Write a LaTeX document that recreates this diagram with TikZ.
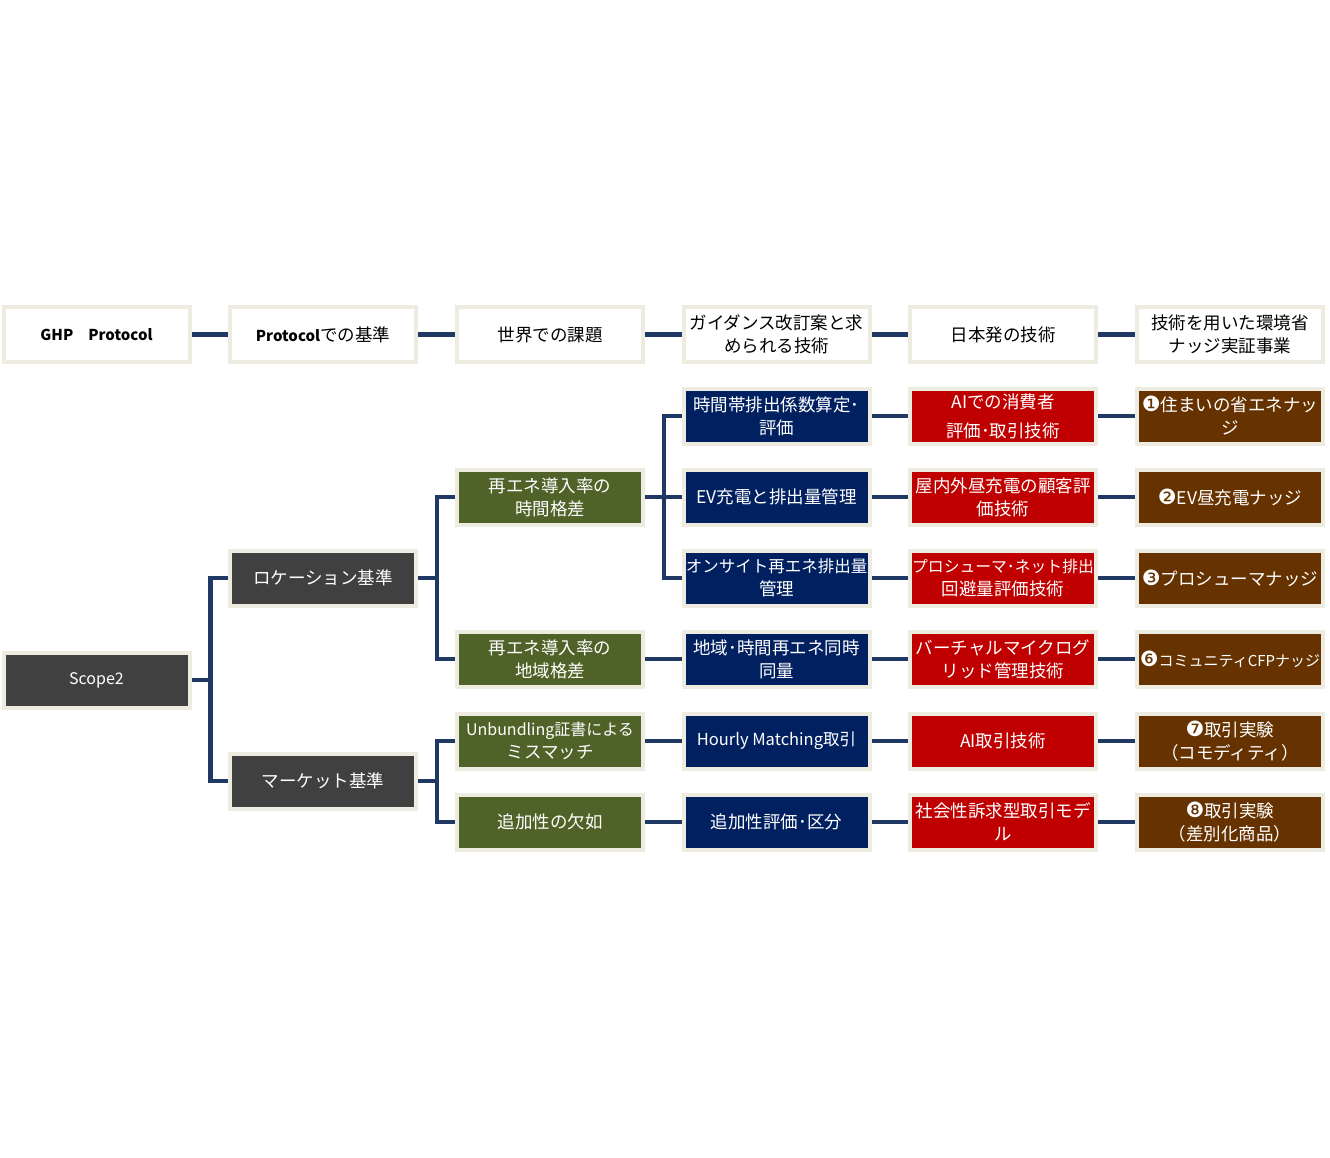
\documentclass[tikz,border=0pt]{standalone}
\usepackage{fontspec}
\setmainfont{Noto Sans CJK JP}
\newfontfamily\circfont{DejaVu Sans}
\usetikzlibrary{calc}
\definecolor{bd}{HTML}{EEECE1}
\definecolor{cgray}{HTML}{404040}
\definecolor{cgreen}{HTML}{4F6228}
\definecolor{cnavy}{HTML}{002060}
\definecolor{cred}{HTML}{C00000}
\definecolor{cbrown}{HTML}{663300}
\definecolor{cline}{HTML}{1F3864}
\newcommand{\fs}[1]{\fontsize{#1}{23}\selectfont}
\newcommand{\cn}[1]{{\circfont\fontsize{21}{23}\selectfont #1}}
\tikzset{
  box/.style={draw=bd, line width=4pt, minimum width=186pt, minimum height=55pt,
    inner xsep=0pt, inner ysep=0pt, align=center, text=white, font=\fs{17.5}},
  hdr/.style={box, fill=white, text=black},
  gbox/.style={box, fill=cgray},
  grbox/.style={box, fill=cgreen},
  nbox/.style={box, fill=cnavy},
  rbox/.style={box, fill=cred},
  bbox/.style={box, fill=cbrown},
  conn/.style={draw=cline, line width=4.5pt, line join=miter}
}
\begin{document}
\begin{tikzpicture}[x=1pt,y=-1pt]
\fill[white] (0,0) rectangle (1330,1158);
\useasboundingbox (0,0) rectangle (1330,1158);

% header row
\node[hdr] (h1) at (96.5,334.5) {\fs{15}\bfseries GHP\hspace{1em}Protocol};
\node[hdr] (h2) at (323,334.5) {{\fs{15}\bfseries Protocol}での基準};
\node[hdr] (h3) at (550,334.5) {世界での課題};
\node[hdr] (h4) at (776.5,334.5) {ガイダンス改訂案と求\\められる技術};
\node[hdr] (h5) at (1003,334.5) {日本発の技術};
\node[hdr] (h6) at (1230,334.5) {技術を用いた環境省\\ナッジ実証事業};

% level 1-3
\node[gbox] (scope) at (96.5,680) {\fs{16}Scope2};
\node[gbox] (loc) at (323,578) {ロケーション基準};
\node[gbox] (mkt) at (323,781) {マーケット基準};
\node[grbox] (g1) at (550,497) {再エネ導入率の\\時間格差};
\node[grbox] (g2) at (550,659) {再エネ導入率の\\地域格差};
\node[grbox] (g3) at (550,741) {\fs{16}Unbundling証書による\\ミスマッチ};
\node[grbox] (g4) at (550,822) {追加性の欠如};

% level 4
\node[nbox] (n1) at (776.5,416) {時間帯排出係数算定･\\評価};
\node[nbox] (n2) at (776.5,497) {EV充電と排出量管理};
\node[nbox] (n3) at (776.5,578) {\fs{16.5}オンサイト再エネ排出量\\管理};
\node[nbox] (n4) at (776.5,659) {地域･時間再エネ同時\\同量};
\node[nbox] (n5) at (776.5,741) {\fs{16.5}Hourly Matching取引};
\node[nbox] (n6) at (776.5,822) {追加性評価･区分};

% level 5
\node[rbox] (r1) at (1003,416) {AIでの消費者\\[6pt]評価･取引技術};
\node[rbox] (r2) at (1003,497) {屋内外昼充電の顧客評\\価技術};
\node[rbox] (r3) at (1003,578) {\fs{15.8}プロシューマ･ネット排出\\回避量評価技術};
\node[rbox] (r4) at (1003,659) {バーチャルマイクログ\\リッド管理技術};
\node[rbox] (r5) at (1003,741) {AI取引技術};
\node[rbox] (r6) at (1003,822) {社会性訴求型取引モデ\\ル};

% level 6
\node[bbox] (b1) at (1230,416) {\cn{❶}住まいの省エネナッ\\ジ};
\node[bbox] (b2) at (1230,497) {\cn{❷}EV昼充電ナッジ};
\node[bbox] (b3) at (1230,578) {\cn{❸}プロシューマナッジ};
\node[bbox] (b4) at (1230,659) {\fs{15}\cn{❻}コミュニティCFPナッジ};
\node[bbox] (b5) at (1230,741) {\cn{❼}取引実験\\（コモディティ）};
\node[bbox] (b6) at (1230,822) {\cn{❽}取引実験\\（差別化商品）};

% header connectors
\foreach \a/\b in {h1/h2,h2/h3,h3/h4,h4/h5,h5/h6}
  \draw[conn] (\a.east) -- (\b.west);

% tree connectors
\draw[conn] (scope.east) -- ++(19,0) |- (loc.west);
\draw[conn] (scope.east) ++(19,0) |- (mkt.west);
\draw[conn] (loc.east) -- ++(19,0) |- (g1.west);
\draw[conn] (loc.east) ++(19,0) |- (g2.west);
\draw[conn] (mkt.east) -- ++(19,0) |- (g3.west);
\draw[conn] (mkt.east) ++(19,0) |- (g4.west);
\draw[conn] (g1.east) -- ++(19,0) |- (n1.west);
\draw[conn] (g1.east) -- (n2.west);
\draw[conn] (g1.east) ++(19,0) |- (n3.west);
\draw[conn] (g2.east) -- (n4.west);
\draw[conn] (g3.east) -- (n5.west);
\draw[conn] (g4.east) -- (n6.west);

% row connectors
\foreach \i in {1,...,6}{
  \draw[conn] (n\i.east) -- (r\i.west);
  \draw[conn] (r\i.east) -- (b\i.west);
}
\end{tikzpicture}
\end{document}
